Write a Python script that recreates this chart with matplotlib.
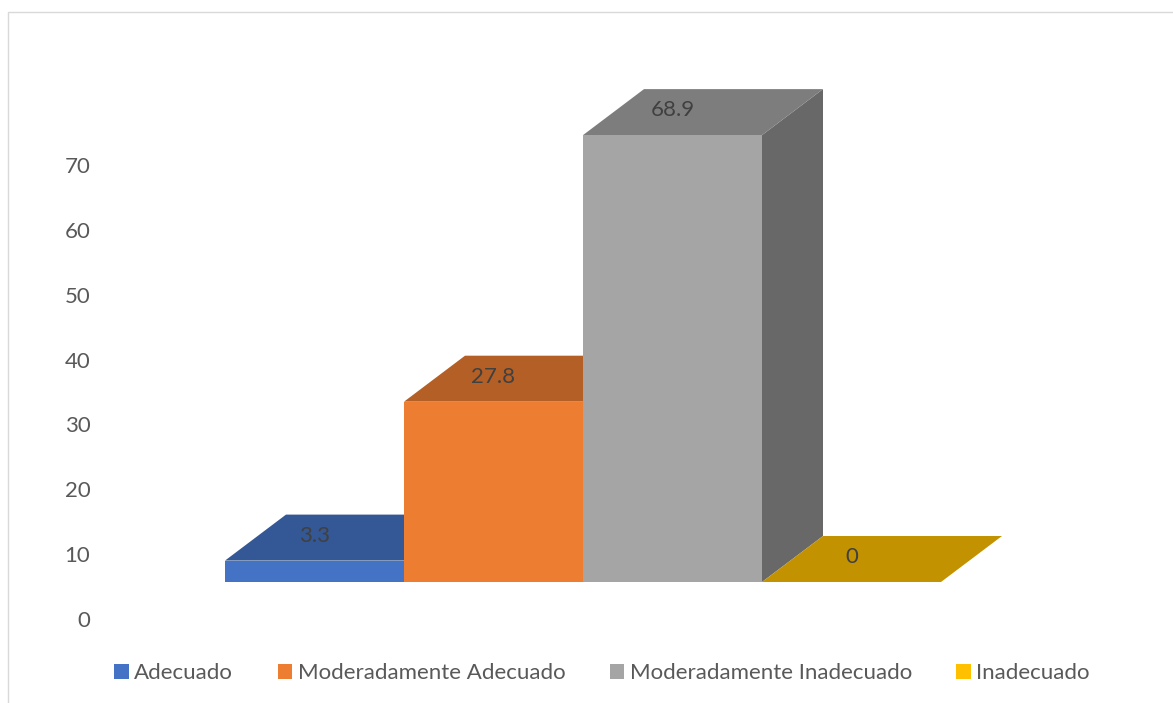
#!/usr/bin/env python3
"""3D-look column chart (Excel style)"""

import numpy as np
import matplotlib.pyplot as plt
from matplotlib.patches import Patch, Rectangle

categories = ['Adecuado', 'Moderadamente Adecuado', 'Moderadamente Inadecuado', 'Inadecuado']
values = [3.3, 27.8, 68.9, 0]
value_labels = ['3.3', '27.8', '68.9', '0']
tick_values = [0, 10, 20, 30, 40, 50, 60, 70]
front_colors = ['#4472C4', '#ED7D31', '#A5A5A5', '#FFC000']

plt.rcParams['font.family'] = ['Lato', 'DejaVu Sans']

W, H = 1173, 703
# pixel geometry of the projected plot area
PX_PER_CAT = 179.0
PX_PER_UNIT = 6.486
CAT0_X = 314.5     # pixel x of first category centre
FLOOR_Y = 582.0    # pixel y of the bars' front base
AX_L, AX_R, AX_T, AX_B = 100, 1060, 40, 640

DEPTH_X = 61 / PX_PER_CAT
DEPTH_Y = 46 / PX_PER_UNIT
TICK_SHIFT = 37 / PX_PER_UNIT
LABEL_UP = 25 / PX_PER_UNIT


def shade(color, f):
  rgb = np.array(plt.matplotlib.colors.to_rgb(color))
  return tuple(rgb * f)


fig = plt.figure(figsize=(W / 100, H / 100), dpi=100)
ax = fig.add_axes([AX_L / W, 1 - AX_B / H, (AX_R - AX_L) / W, (AX_B - AX_T) / H])
ax.set_xlim((AX_L - CAT0_X) / PX_PER_CAT, (AX_R - CAT0_X) / PX_PER_CAT)
ax.set_ylim((FLOOR_Y - AX_B) / PX_PER_UNIT, (FLOOR_Y - AX_T) / PX_PER_UNIT)

for i, (v, c) in enumerate(zip(values, front_colors)):
  x0, x1 = i - 0.5, i + 0.5
  # side face
  ax.fill([x1, x1 + DEPTH_X, x1 + DEPTH_X, x1],
          [0, DEPTH_Y, v + DEPTH_Y, v], color=shade(c, 0.63), lw=0)
  # top face
  ax.fill([x0, x1, x1 + DEPTH_X, x0 + DEPTH_X],
          [v, v, v + DEPTH_Y, v + DEPTH_Y], color=shade(c, 0.76), lw=0)
  # front face
  ax.fill([x0, x1, x1, x0], [0, 0, v, v], color=c, lw=0)
  ax.text(i, v + LABEL_UP, value_labels[i], ha='center', va='center',
          fontsize=16, color='#404040')

ax.set_yticks([t - TICK_SHIFT for t in tick_values], labels=[str(t) for t in tick_values])
ax.set_xticks([])
ax.tick_params(axis='y', length=0, pad=7, labelsize=16, labelcolor='#595959')
for s in ax.spines.values():
  s.set_visible(False)
ax.patch.set_alpha(0)

handles = [Patch(facecolor=c, label=l) for c, l in zip(front_colors, categories)]
fig.legend(handles=handles, loc='center', bbox_to_anchor=(602 / W, 1 - 673 / H),
           ncol=4, frameon=False, fontsize=16, labelcolor='#595959',
           handlelength=0.65, handleheight=0.65, handletextpad=0.25, columnspacing=2.0)

fig.add_artist(Rectangle((8 / W, -0.01), 1.0, 1.01 - 12 / H, transform=fig.transFigure,
                         fill=False, edgecolor='#D9D9D9', lw=1))

fig.savefig('out.png', dpi=100)
